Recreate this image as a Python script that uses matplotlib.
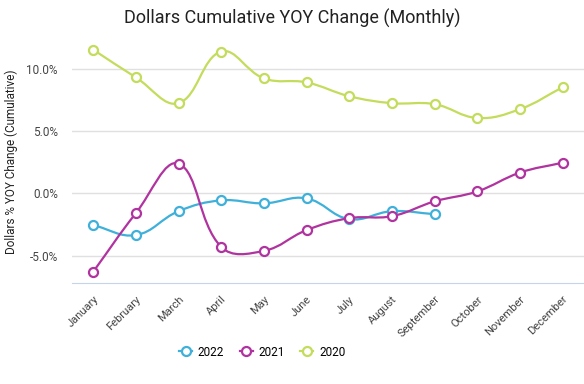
import numpy as np
import matplotlib.pyplot as plt
from matplotlib.path import Path
from matplotlib.patches import PathPatch
from matplotlib.lines import Line2D
from matplotlib.ticker import FuncFormatter

plt.rcParams['font.family'] = ['Roboto', 'DejaVu Sans']

months = ['January', 'February', 'March', 'April', 'May', 'June', 'July',
          'August', 'September', 'October', 'November', 'December']

yoy_2022 = [-2.55, -3.35, -1.43, -0.56, -0.80, -0.40, -2.07, -1.43, -1.67]
yoy_2021 = [-6.30, -1.59, 2.39, -4.30, -4.62, -2.95, -1.99, -1.83, -0.64, 0.16, 1.67, 2.47]
yoy_2020 = [11.55, 9.32, 7.25, 11.40, 9.24, 8.92, 7.81, 7.25, 7.17, 6.06, 6.77, 8.53]

series = [('2022', yoy_2022, '#3eb0d9'),
          ('2021', yoy_2021, '#b0339f'),
          ('2020', yoy_2020, '#c3dc5c')]

# ~~~~~~~~~~~~~~~~~~~~~~~~~~~~~~~~~~~~~~~~~~~~~~~~~~~~~~~~~~~~~~~~~~~~~~~~~~~~~

def bezier_path(xs, ys, tension=0.4, sx=43.0, sy=12.55):
    # chart.js style spline, distances measured in pixel-ish space
    px = np.asarray(xs, float) * sx
    py = np.asarray(ys, float) * sy
    n = len(px)
    cin = [(px[0], py[0])]
    cout = []
    for i in range(n):
        p0 = (px[max(i - 1, 0)], py[max(i - 1, 0)])
        p1 = (px[i], py[i])
        p2 = (px[min(i + 1, n - 1)], py[min(i + 1, n - 1)])
        d01 = np.hypot(p1[0] - p0[0], p1[1] - p0[1])
        d12 = np.hypot(p2[0] - p1[0], p2[1] - p1[1])
        tot = d01 + d12
        s01 = d01 / tot if tot else 0
        s12 = d12 / tot if tot else 0
        fa = tension * s01
        fb = tension * s12
        cin.append((p1[0] - fa * (p2[0] - p0[0]), p1[1] - fa * (p2[1] - p0[1])))
        cout.append((p1[0] + fb * (p2[0] - p0[0]), p1[1] + fb * (p2[1] - p0[1])))
    verts = [(px[0], py[0])]
    codes = [Path.MOVETO]
    for i in range(n - 1):
        verts += [cout[i], cin[i + 2], (px[i + 1], py[i + 1])]
        codes += [Path.CURVE4] * 3
    verts = [(vx / sx, vy / sy) for vx, vy in verts]
    return Path(verts, codes)

# ~~~~~~~~~~~~~~~~~~~~~~~~~~~~~~~~~~~~~~~~~~~~~~~~~~~~~~~~~~~~~~~~~~~~~~~~~~~~~

fig = plt.figure(figsize=(5.84, 3.84), dpi=100)
ax = fig.add_axes([0.123, 0.263, 0.877, 0.632])

handles = []
for name, vals, col in series:
    x = np.arange(len(vals))
    ax.add_patch(PathPatch(bezier_path(x, vals), facecolor='none',
                           edgecolor=col, lw=1.6, zorder=3))
    ax.plot(x, vals, ls='none', marker='o', ms=6.5, mfc='white', mec=col,
            mew=1.6, zorder=4)
    handles.append(Line2D([], [], color=col, lw=1.6, marker='o', ms=6.5,
                          mfc='white', mec=col, mew=1.6))

ax.set_xlim(-0.5, 11.5)
ax.set_ylim(-7.2, 12.3)
ax.set_yticks([-5, 0, 5, 10])
ax.yaxis.set_major_formatter(FuncFormatter(lambda v, p: f'{v:.1f}%'))
ax.set_xticks(range(12))
ax.set_xticklabels(months, rotation=45, ha='right', rotation_mode='anchor')
ax.tick_params(axis='both', length=0, labelsize=8.5, colors='#444444')
ax.tick_params(axis='y', pad=10)
ax.tick_params(axis='x', pad=8, labelsize=8)
ax.grid(axis='y', color='#e0e0e0', lw=1)
ax.set_axisbelow(True)
for s in ['top', 'right', 'left']:
    ax.spines[s].set_visible(False)
ax.spines['bottom'].set_color('#c6d4ea')

ax.set_ylabel('Dollars % YOY Change (Cumulative)', fontsize=8.5,
              color='#222222', labelpad=6)
fig.suptitle('Dollars Cumulative YOY Change (Monthly)', x=0.5, y=0.978,
             fontsize=13, color='#222222')

fig.legend(handles, [s[0] for s in series], loc='center', ncol=3,
           bbox_to_anchor=(0.449, 0.083), frameon=False, fontsize=8.5,
           handlelength=1.1, columnspacing=1.3, handletextpad=0.5)

fig.savefig('out.png', dpi=100)
